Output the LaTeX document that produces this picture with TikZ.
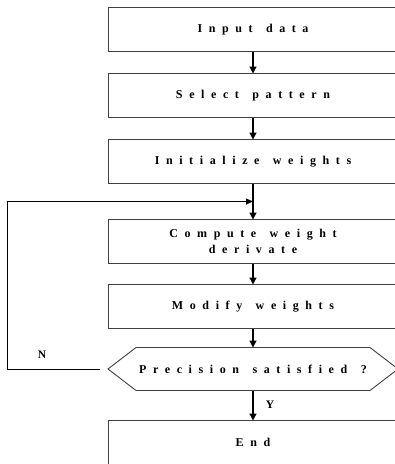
\documentclass[tikz,border=0pt]{standalone}
\usepackage{fontspec}
\newfontfamily\flowfont{Liberation Serif}[LetterSpace=55,WordSpace=1.4]
\usetikzlibrary{positioning,calc,arrows.meta}

\begin{document}
\begin{tikzpicture}[x=1pt,y=-1pt,
    stepbox/.style={draw=black!75, line width=0.9pt, minimum width=290pt, minimum height=44pt, inner sep=0pt, outer sep=0pt, align=center, font=\flowfont\bfseries\fontsize{12}{16}\selectfont},
    testbox/.style={stepbox, draw=none, minimum height=43pt},
    flow/.style={line width=1.3pt, -{Triangle[length=7pt,width=7pt]}},
    lbl/.style={font=\flowfont\bfseries\fontsize{11.5}{12}\selectfont}]
    \clip (0,0) rectangle (395,464);

    % Main column
    \node[stepbox] (input) at (253,29.5) {Input data};
    \node[stepbox, below=22pt of input] (select) {Select pattern};
    \node[stepbox, below=22pt of select] (init) {Initialize weights};
    \node[stepbox, below=36pt of init] (compute) {Compute weight\\derivate};
    \node[stepbox, below=21pt of compute] (modify) {Modify weights};
    \node[testbox, below=19pt of modify] (prec) {Precision satisfied ?};
    \node[stepbox, below=30pt of prec] (end) {End};

    % Hexagon outline of the test
    \draw[draw=black!75, line width=0.9pt] (prec.west) -- ($(prec.north west)+(28,0)$) -- ($(prec.north east)+(-28,0)$)
        -- (prec.east) -- ($(prec.south east)+(-28,0)$) -- ($(prec.south west)+(28,0)$) -- cycle;

    % Arrows
    \draw[flow] (input) -- (select);
    \draw[flow] (select) -- (init);
    \draw[flow] (init) -- (compute);
    \draw[flow] (compute) -- (modify);
    \draw[flow] (modify) -- (prec);
    \draw[flow] (prec) -- (end);

    % Feedback loop
    \coordinate (nstart) at ($(prec.west)+(-8,0)$);
    \coordinate (loopin) at ($(init.south)!0.5!(compute.north)$);
    \draw[line width=0.9pt, -{Triangle[length=7pt,width=6pt]}] (nstart) -- ++(-93,0) |- (loopin);

    % Labels
    \node[lbl] (nlab) at (42,355) {N};
    \node[lbl] (ylab) at (270,405) {Y};
\end{tikzpicture}
\end{document}
